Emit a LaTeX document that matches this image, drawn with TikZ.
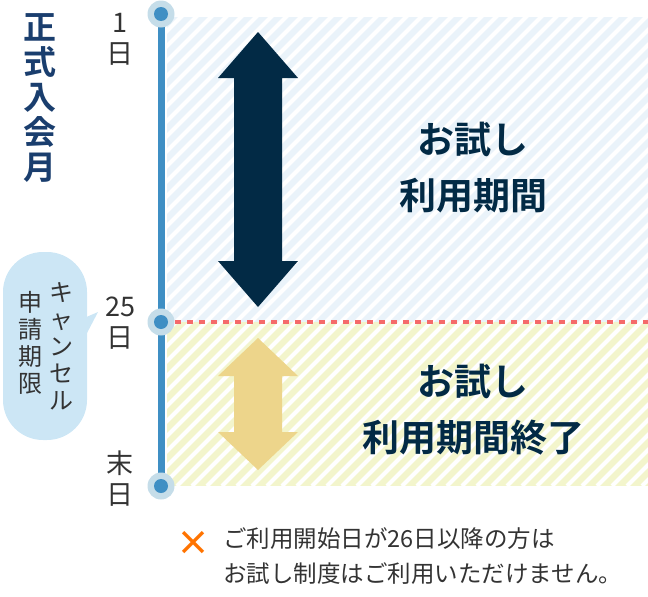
\documentclass[tikz,border=0pt]{standalone}
\usepackage{fontspec}
\setmainfont{Noto Sans CJK JP}[BoldFont={Noto Sans CJK JP Bold}]
\usetikzlibrary{positioning}
\definecolor{lineblue}{HTML}{3F8FC4}
\definecolor{ringblue}{HTML}{C5DDE9}
\definecolor{paleblue}{HTML}{EAF3FA}
\definecolor{paleyellow}{HTML}{F3F5CC}
\definecolor{navy}{HTML}{022A45}
\definecolor{sand}{HTML}{EDD58B}
\definecolor{dashred}{HTML}{F56A6A}
\definecolor{titleblue}{HTML}{1A3E6E}
\definecolor{callout}{HTML}{CCE6F5}
\definecolor{txt}{HTML}{333333}
% double arrow: centre x, top y, bottom y, head height
\newcommand{\vdarrow}[5]{%
  \fill[#5] (#1,#2) -- (#1+40,#2+#4) -- (#1+24,#2+#4) -- (#1+24,#3-#4) -- (#1+40,#3-#4)
    -- (#1,#3) -- (#1-40,#3-#4) -- (#1-24,#3-#4) -- (#1-24,#2+#4) -- (#1-40,#2+#4) -- cycle;}
\begin{document}
\begin{tikzpicture}[x=1pt,y=-1pt,
    daytext/.style={text=txt,font=\fontsize{27}{31}\selectfont,align=center,inner sep=0pt},
    bigtext/.style={text=navy,font=\bfseries\fontsize{37}{56}\selectfont,align=center,inner sep=0pt},
    dot/.style={circle,fill=ringblue,minimum size=27pt,inner sep=0pt,
      path picture={\fill[lineblue] (path picture bounding box.center) circle (7pt);}},
  ]
  \useasboundingbox (0,0) rectangle (648,597);

  % hatched periods
  \fill[paleblue] (167,17) rectangle (648,322);
  \fill[paleyellow] (167,322) rectangle (648,486);
  \begin{scope}
    \clip (167,17) rectangle (648,486);
    \foreach \i in {0,...,70}
      \draw[white,line width=4pt] (167+\i*15-500,486) -- (167+\i*15,-14);
  \end{scope}
  \draw[dashred,line width=4pt,dash pattern=on 6pt off 6pt] (175,322) -- (648,322);

  % time line
  \draw[lineblue,line width=7pt] (161,14) -- (161,486);
  \node[dot] (d1) at (161,14) {};
  \node[dot] (d25) at (161,322) {};
  \node[dot] (dend) at (161,486) {};

  \node[daytext] (l1) at (120,39) {1\\日};
  \node[daytext] (l25) at (120,323) {25\\日};
  \node[daytext] (lend) at (120,479) {末\\日};

  % arrows
  \vdarrow{258}{32}{307}{46}{navy}
  \vdarrow{258}{338}{470}{38}{sand}

  \node[bigtext] (t1) at (473,168) {お試し\\利用期間};
  \node[bigtext] (t2) at (473,410) {お試し\\利用期間終了};

  \node[text=titleblue,font=\bfseries\fontsize{33}{35}\selectfont,align=center,inner sep=0pt] (title) at (40,98) {正\\式\\入\\会\\月};

  % callout
  \fill[callout,rounded corners=40pt] (3,252) rectangle (87,440);
  \fill[callout] (84,318) -- (98,312) -- (86,335) -- cycle;
  \node[text=txt,font=\fontsize{24}{27}\selectfont,align=center,inner sep=0pt] (c1) at (61,346) {キ\\ャ\\ン\\セ\\ル};
  \node[text=txt,font=\fontsize{24}{27}\selectfont,align=center,inner sep=0pt] (c2) at (30,343) {申\\請\\期\\限};

  % note
  \node[text=orange!90!red,font=\bfseries\fontsize{34}{34}\selectfont,inner sep=0pt] (x) at (193,543) {×};
  \node[text=txt,font=\fontsize{23.5}{35}\selectfont,align=left,anchor=north west,inner sep=0pt] (note) at (223,527) {ご利用開始日が26日以降の方は\\お試し制度はご利用いただけません。};
\end{tikzpicture}
\end{document}
